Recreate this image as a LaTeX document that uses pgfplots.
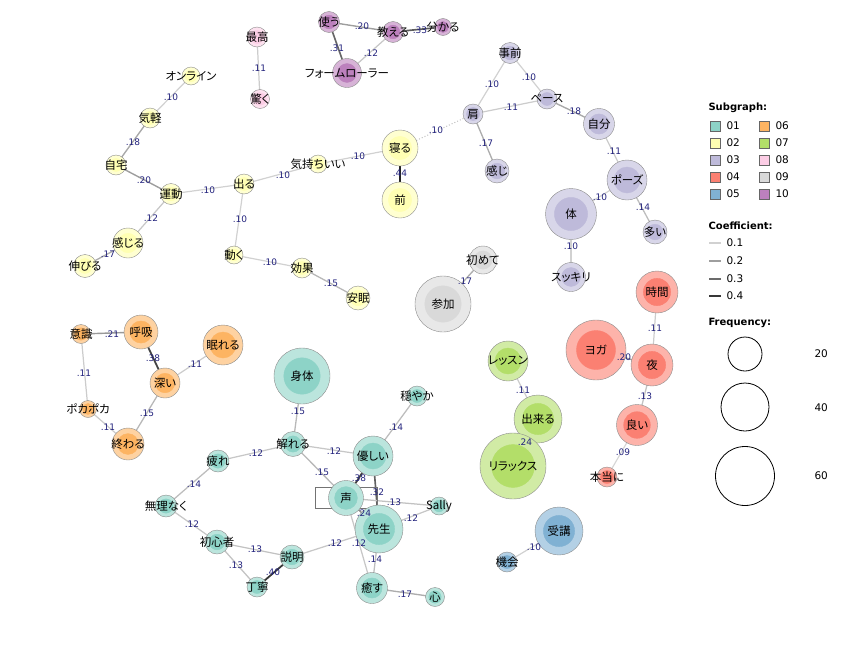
\documentclass[border=0pt]{standalone}
\usepackage{pgfplots}
\pgfplotsset{compat=1.18}
\usepackage{pgfplotstable}
\usepackage{fontspec}
\setmainfont{DejaVu Sans}
\newfontfamily\jp{Noto Sans CJK JP}[RawFeature=+palt]
\definecolor{elab}{RGB}{35,35,125}
\definecolor{sa}{RGB}{141,211,199}
\definecolor{sb}{RGB}{255,255,179}
\definecolor{sc}{RGB}{190,186,218}
\definecolor{sd}{RGB}{251,128,114}
\definecolor{se}{RGB}{128,177,211}
\definecolor{sf}{RGB}{253,180,98}
\definecolor{sg}{RGB}{179,222,105}
\definecolor{sh}{RGB}{252,205,229}
\definecolor{si}{RGB}{217,217,217}
\definecolor{sj}{RGB}{188,128,189}

% words: centre (px), radius (px), subgraph (a = 01 ... j = 10)
\pgfplotstableread{
x y r c lab
329 22 10.5 j 使う
393 32 10.5 j 教える
443 27 8.5 j 分かる
347 73 14.5 j フォームローラー
257 37 10 h 最高
260 99 9.5 h 驚く
191 76 9 b オンライン
150 118 10 b 気軽
116 165 10 b 自宅
171 194 10.5 b 運動
244 184 10 b 出る
318 164 9 b 気持ちいい
400 148 18 b 寝る
400 200 18 b 前
128 243 15 b 感じる
85 266 11.5 b 伸びる
234 255 9 b 動く
302 268 10 b 効果
358 298 12 b 安眠
510 53 10.5 c 事前
547 99 10 c ペース
473 114 10 c 肩
599 124 15.5 c 自分
497 171 12 c 感じ
627 180 20 c ポーズ
571 214 25.5 c 体
655 232 12 c 多い
571 277 14.5 c スッキリ
483 260 14 i 初めて
443 304 28 i 参加
657 292 21 d 時間
596 350 30 d ヨガ
652 365 21 d 夜
637 425 20.5 d 良い
607 477 10 d 本当に
508 361 20 g レッスン
538 419 24 g 出来る
513 466 33 g リラックス
559 531 24 e 受講
507 562 10 e 機会
81 334 9.5 f 意識
141 332 17 f 呼吸
223 345 20 f 眠れる
165 383 15 f 深い
88 409 8.5 f ポカポカ
128 444 16 f 終わる
302 376 28 a 身体
417 396 10 a 穏やか
293 444 12.5 a 解れる
218 461 11 a 疲れ
373 456 20 a 優しい
346 498 17.5 a 声
379 529 24 a 先生
439 506 9 a Sally
166 506 11 a 無理なく
217 542 12 a 初心者
292 557 12 a 説明
257 587 10 a 丁寧
372 588 15.5 a 癒す
435 597 9.5 a 心
}\words

% coefficient labels
\pgfplotstableread{
x y t
362 26 .20
420 30 .33
337 48 .31
371 53 .12
259 68 .11
171 97 .10
133 142 .18
144 180 .20
208 190 .10
283 175 .10
358 156 .10
400 173 .44
151 218 .12
108 254 .17
240 219 .10
270 262 .10
331 283 .15
436 130 .10
492 84 .10
529 77 .10
511 107 .11
486 143 .17
574 111 .18
614 151 .11
600 197 .10
643 207 .14
571 246 .10
465 281 .17
655 328 .11
624 357 .20
645 396 .13
623 452 .09
523 390 .11
525 442 .24
534 547 .10
112 334 .21
153 358 .38
195 364 .11
84 373 .11
147 413 .15
108 427 .11
298 411 .15
256 453 .12
334 451 .12
322 472 .15
194 484 .14
192 524 .12
255 549 .13
236 565 .13
273 572 .40
335 543 .12
396 427 .14
359 478 .38
377 492 .32
394 502 .13
411 518 .12
364 513 .24
359 543 .12
375 559 .14
405 594 .17
}\coefs

% subgraph legend squares
\pgfplotstableread{
x y c
715 126 a
715 143 b
715 160 c
715 177 d
715 194 e
764 126 f
764 143 g
764 160 h
764 177 i
764 194 j
}\subg

\newcommand\edge[5]{\addplot[draw=black!\fpeval{round(200*#5-2)}, line width=\fpeval{1.0+2*#5}pt] coordinates {(#1,#2) (#3,#4)};}
\newcommand\legtext[3]{\node[anchor=west, font=\fontsize{10.5}{12}\selectfont] at (axis cs:#1,#2) {#3};}
\newcommand\leghead[2]{\node[anchor=west, font=\bfseries\fontsize{10}{12}\selectfont] at (axis cs:705,#1) {#2};}

\pgfplotsset{
  outer/.style={scatter/classes={
    a={fill=sa!60!white, draw=black!45}, b={fill=sb!60!white, draw=black!45},
    c={fill=sc!60!white, draw=black!45}, d={fill=sd!60!white, draw=black!45},
    e={fill=se!60!white, draw=black!45}, f={fill=sf!60!white, draw=black!45},
    g={fill=sg!60!white, draw=black!45}, h={fill=sh!60!white, draw=black!45},
    i={fill=si!60!white, draw=black!45}, j={fill=sj!60!white, draw=black!45}}},
  inner/.style={scatter/classes={
    a={fill=sa, draw=sa}, b={fill=sb, draw=sb}, c={fill=sc, draw=sc}, d={fill=sd, draw=sd},
    e={fill=se, draw=se}, f={fill=sf, draw=sf}, g={fill=sg, draw=sg}, h={fill=sh, draw=sh},
    i={fill=si, draw=si}, j={fill=sj, draw=sj}}},
  legsq/.style={scatter/classes={
    a={fill=sa, draw=black!60}, b={fill=sb, draw=black!60}, c={fill=sc, draw=black!60},
    d={fill=sd, draw=black!60}, e={fill=se, draw=black!60}, f={fill=sf, draw=black!60},
    g={fill=sg, draw=black!60}, h={fill=sh, draw=black!60}, i={fill=si, draw=black!60},
    j={fill=sj, draw=black!60}}},
}

\begin{document}
\begin{tikzpicture}
\begin{axis}[
  x=1pt, y=1pt, y dir=reverse,
  xmin=0, xmax=841, ymin=0, ymax=648,
  hide axis, clip=false,
]
\addplot[draw=none] coordinates {(0,0) (841,648)};

% edges
\edge{329}{22}{393}{32}{0.20}
\edge{393}{32}{443}{27}{0.33}
\edge{329}{22}{347}{73}{0.31}
\edge{393}{32}{347}{73}{0.12}
\edge{257}{37}{260}{99}{0.11}
\edge{191}{76}{150}{118}{0.10}
\edge{150}{118}{116}{165}{0.18}
\edge{116}{165}{171}{194}{0.20}
\edge{171}{194}{244}{184}{0.10}
\edge{244}{184}{318}{164}{0.10}
\edge{318}{164}{400}{148}{0.10}
\edge{400}{148}{400}{200}{0.44}
\edge{171}{194}{128}{243}{0.12}
\edge{128}{243}{85}{266}{0.17}
\edge{244}{184}{234}{255}{0.10}
\edge{234}{255}{302}{268}{0.10}
\edge{302}{268}{358}{298}{0.15}
\addplot[draw=black!25, line width=1pt, dotted] coordinates {(400,148) (473,114)};
\edge{473}{114}{510}{53}{0.10}
\edge{510}{53}{547}{99}{0.10}
\edge{473}{114}{547}{99}{0.11}
\edge{473}{114}{497}{171}{0.17}
\edge{547}{99}{599}{124}{0.18}
\edge{599}{124}{627}{180}{0.11}
\edge{627}{180}{571}{214}{0.10}
\edge{627}{180}{655}{232}{0.14}
\edge{571}{214}{571}{277}{0.10}
\edge{443}{304}{483}{260}{0.17}
\edge{657}{292}{652}{365}{0.11}
\edge{596}{350}{652}{365}{0.20}
\edge{652}{365}{637}{425}{0.13}
\edge{637}{425}{607}{477}{0.09}
\edge{508}{361}{538}{419}{0.11}
\edge{538}{419}{513}{466}{0.24}
\edge{559}{531}{507}{562}{0.10}
\edge{81}{334}{141}{332}{0.21}
\edge{141}{332}{165}{383}{0.38}
\edge{165}{383}{223}{345}{0.11}
\edge{81}{334}{88}{409}{0.11}
\edge{88}{409}{128}{444}{0.11}
\edge{165}{383}{128}{444}{0.15}
\edge{302}{376}{293}{444}{0.15}
\edge{293}{444}{218}{461}{0.12}
\edge{293}{444}{373}{456}{0.12}
\edge{293}{444}{346}{498}{0.15}
\edge{218}{461}{166}{506}{0.14}
\edge{166}{506}{217}{542}{0.12}
\edge{217}{542}{292}{557}{0.13}
\edge{217}{542}{257}{587}{0.13}
\edge{292}{557}{257}{587}{0.40}
\edge{292}{557}{379}{529}{0.12}
\edge{373}{456}{417}{396}{0.14}
\edge{373}{456}{346}{498}{0.38}
\edge{373}{456}{379}{529}{0.32}
\edge{346}{498}{379}{529}{0.24}
\edge{346}{498}{439}{506}{0.13}
\edge{379}{529}{439}{506}{0.12}
\edge{346}{498}{372}{588}{0.12}
\edge{379}{529}{372}{588}{0.14}
\edge{372}{588}{435}{597}{0.17}

% word circles: light outer disc, stronger inner disc
\addplot[scatter, only marks, mark=*, scatter src=explicit symbolic, outer,
  visualization depends on={\thisrow{r} \as \rad},
  scatter/@pre marker code/.append style={/tikz/mark size=\rad, /tikz/line width=0.7pt}]
  table[x=x, y=y, meta=c] \words;
\addplot[scatter, only marks, mark=*, scatter src=explicit symbolic, inner,
  visualization depends on={0.65*\thisrow{r} \as \rad},
  scatter/@pre marker code/.append style={/tikz/mark size=\rad, /tikz/line width=0pt}]
  table[x=x, y=y, meta=c] \words;

\addplot[draw=black!55, line width=0.8pt] coordinates {(315,487) (377,487) (377,508) (315,508) (315,487)};

% word labels
\addplot[draw=none, mark=none, point meta=explicit symbolic,
  nodes near coords, nodes near coords align=center,
  every node near coord/.append style={font=\jp\fontsize{11.5}{12}\selectfont, inner sep=0pt, anchor=center}]
  table[x=x, y=y, meta=lab] \words;

% coefficient labels
\addplot[draw=none, mark=none, point meta=explicit symbolic,
  nodes near coords, nodes near coords align=center,
  every node near coord/.append style={font=\fontsize{9}{10}\selectfont, text=elab, inner sep=0pt, anchor=center}]
  table[x=x, y=y, meta=t] \coefs;

% legend: subgraph
\addplot[scatter, only marks, mark=square*, mark size=5, scatter src=explicit symbolic, legsq,
  scatter/@pre marker code/.append style={/tikz/line width=0.6pt}]
  table[x=x, y=y, meta=c] \subg;
\leghead{108}{Subgraph:}
\legtext{723}{126}{01}
\legtext{723}{143}{02}
\legtext{723}{160}{03}
\legtext{723}{177}{04}
\legtext{723}{194}{05}
\legtext{772}{126}{06}
\legtext{772}{143}{07}
\legtext{772}{160}{08}
\legtext{772}{177}{09}
\legtext{772}{194}{10}

% legend: coefficient
\leghead{226}{Coefficient:}
\edge{709}{243}{721}{243}{0.1}
\edge{709}{261}{721}{261}{0.2}
\edge{709}{279}{721}{279}{0.3}
\edge{709}{296}{721}{296}{0.4}
\legtext{723}{243}{0.1}
\legtext{723}{261}{0.2}
\legtext{723}{279}{0.3}
\legtext{723}{296}{0.4}

% legend: frequency
\leghead{323}{Frequency:}
\addplot[only marks, mark=*, mark size=17, mark options={fill=white, draw=black, line width=0.8pt}] coordinates {(745,354)};
\addplot[only marks, mark=*, mark size=24, mark options={fill=white, draw=black, line width=0.8pt}] coordinates {(745,407)};
\addplot[only marks, mark=*, mark size=29.5, mark options={fill=white, draw=black, line width=0.8pt}] coordinates {(745,476)};
\legtext{811}{354}{20}
\legtext{811}{408}{40}
\legtext{811}{476}{60}
\end{axis}
\end{tikzpicture}
\end{document}
